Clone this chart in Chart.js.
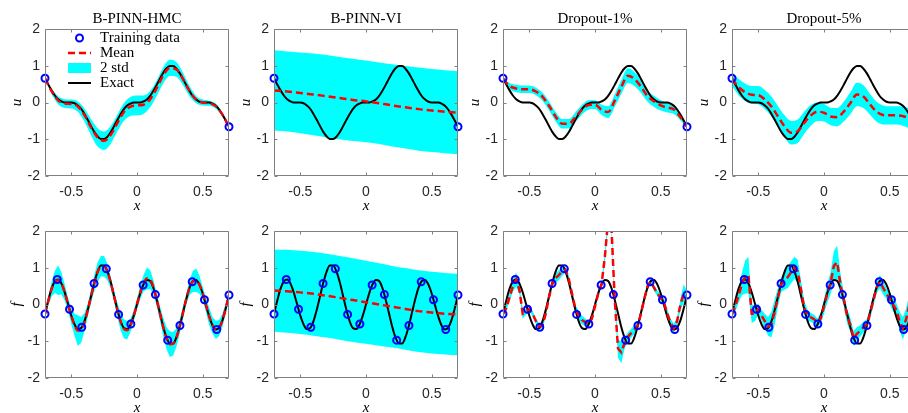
<!DOCTYPE html>
<html>
<head>
    <title>B-PINN vs Dropout</title>
    <script src="https://cdn.jsdelivr.net/npm/chart.js"></script>
    <style>
        body { margin: 0; background: #fff; width: 908px; height: 413px; overflow: hidden; position: relative; }
        .panel { position: absolute; width: 241px; height: 217px; }
    </style>
</head>
<body>
<script>
// grids
var xFine = [-0.7, -0.675, -0.65, -0.625, -0.6, -0.575, -0.55, -0.525, -0.5, -0.475, -0.45, -0.425, -0.4, -0.375,
    -0.35, -0.325, -0.3, -0.275, -0.25, -0.225, -0.2, -0.175, -0.15, -0.125, -0.1, -0.075, -0.05, -0.025, 0,
    0.025, 0.05, 0.075, 0.1, 0.125, 0.15, 0.175, 0.2, 0.225, 0.25, 0.275, 0.3, 0.325, 0.35, 0.375,
    0.4, 0.425, 0.45, 0.475, 0.5, 0.525, 0.55, 0.575, 0.6, 0.625, 0.65, 0.675, 0.7];
var xCoarse = [-0.7, -0.65, -0.6, -0.55, -0.5, -0.45, -0.4, -0.35, -0.3, -0.25, -0.2, -0.15, -0.1, -0.05, 0,
    0.05, 0.1, 0.15, 0.2, 0.25, 0.3, 0.35, 0.4, 0.45, 0.5, 0.55, 0.6, 0.65, 0.7];
var xVI = [-0.7, -0.6, -0.5, -0.4, -0.3, -0.2, -0.1, 0, 0.1, 0.2, 0.3, 0.4, 0.5, 0.6, 0.7];

var xTicks = [-0.5, 0, 0.5];
var yTicks = [-2, -1, 0, 1, 2];

// exact solutions (on xFine)
var uExact = [0.66, 0.49, 0.33, 0.19, 0.09, 0.03, 0.00, 0.00, 0.00, -0.02, -0.08, -0.17, -0.31, -0.47,
    -0.64, -0.80, -0.92, -0.99, -0.99, -0.93, -0.81, -0.65, -0.48, -0.32, -0.18, -0.08, -0.03, 0.00, 0.00,
    0.00, 0.03, 0.08, 0.18, 0.32, 0.48, 0.65, 0.81, 0.93, 0.99, 0.99, 0.92, 0.80, 0.64,
    0.47, 0.31, 0.17, 0.08, 0.02, 0.00, 0.00, 0.00, -0.03, -0.09, -0.19, -0.33, -0.49, -0.66];
var fExact = [-0.26, 0.11, 0.43, 0.63, 0.68, 0.57, 0.33, 0.02, -0.30, -0.54, -0.67, -0.64, -0.46, -0.15,
    0.22, 0.59, 0.89, 1.06, 1.06, 0.90, 0.61, 0.24, -0.13, -0.45, -0.64, -0.67, -0.55, -0.31, 0.00,
    0.31, 0.55, 0.67, 0.64, 0.45, 0.13, -0.24, -0.61, -0.90, -1.06, -1.06, -0.89, -0.59, -0.22,
    0.15, 0.46, 0.64, 0.67, 0.54, 0.30, -0.02, -0.33, -0.57, -0.68, -0.63, -0.43, -0.11, 0.26];

// training data
var uTrainX = [-0.7, 0.7];
var uTrainY = [0.66, -0.66];
var fTrainX = [-0.7, -0.6067, -0.5133, -0.42, -0.3267, -0.2333, -0.14, -0.0467,
    0.0467, 0.14, 0.2333, 0.3267, 0.42, 0.5133, 0.6067, 0.7];
var fTrainY = [-0.26, 0.68, -0.13, -0.62, 0.57, 0.97, -0.27, -0.53,
    0.53, 0.27, -0.97, -0.57, 0.62, 0.13, -0.68, 0.26];

// u predictions: mean and 2*std
var hmcUMean = [0.66, 0.31, 0.06, -0.03, -0.04, -0.11, -0.34, -0.67, -0.95, -1.04, -0.88, -0.56, -0.26, -0.11, -0.08,
    -0.06, 0.09, 0.39, 0.74, 0.94, 0.90, 0.64, 0.31, 0.08, 0.00, -0.02, -0.10, -0.33, -0.66];
var hmcUStd = [0.0, 0.07, 0.11, 0.12, 0.12, 0.14, 0.18, 0.22, 0.25, 0.25, 0.24, 0.23, 0.24, 0.26, 0.27,
    0.25, 0.22, 0.21, 0.22, 0.22, 0.20, 0.17, 0.14, 0.10, 0.08, 0.07, 0.07, 0.05, 0.0];
var viUMean = [0.33, 0.30, 0.26, 0.22, 0.17, 0.12, 0.07, 0.03, -0.02, -0.08, -0.13, -0.18, -0.22, -0.25, -0.28];
var viUStd = [1.09, 1.09, 1.10, 1.11, 1.12, 1.12, 1.12, 1.11, 1.11, 1.12, 1.12, 1.13, 1.13, 1.13, 1.13];
var d1UMean = [0.65, 0.45, 0.38, 0.36, 0.36, 0.30, 0.16, -0.09, -0.38, -0.58, -0.58, -0.40, -0.20, -0.07, -0.06,
    -0.20, -0.26, 0.05, 0.42, 0.73, 0.64, 0.43, 0.17, 0.03, -0.08, -0.14, -0.19, -0.40, -0.66];
var d1UStd = [0.04, 0.08, 0.10, 0.10, 0.10, 0.10, 0.11, 0.12, 0.13, 0.13, 0.13, 0.13, 0.13, 0.13, 0.12,
    0.14, 0.16, 0.17, 0.19, 0.20, 0.19, 0.17, 0.15, 0.15, 0.14, 0.13, 0.12, 0.08, 0.03];
var d5UMean = [0.64, 0.42, 0.28, 0.21, 0.20, 0.08, -0.11, -0.38, -0.65, -0.82, -0.78, -0.55, -0.35, -0.25, -0.28,
    -0.38, -0.40, -0.25, -0.02, 0.22, 0.16, -0.05, -0.25, -0.34, -0.35, -0.35, -0.37, -0.45, -0.66];
var d5UStd = [0.20, 0.22, 0.24, 0.24, 0.25, 0.26, 0.27, 0.28, 0.30, 0.32, 0.32, 0.30, 0.28, 0.25, 0.24,
    0.24, 0.25, 0.27, 0.30, 0.32, 0.31, 0.28, 0.27, 0.26, 0.25, 0.25, 0.26, 0.27, 0.28];

// f predictions: mean and 2*std
var hmcFMean = [-0.26, 0.10, 0.42, 0.62, 0.66, 0.57, 0.33, 0.01, -0.31, -0.56, -0.71, -0.69, -0.49, -0.16,
    0.22, 0.58, 0.88, 1.04, 1.04, 0.88, 0.60, 0.23, -0.14, -0.46, -0.66, -0.70, -0.57, -0.31, 0.01,
    0.33, 0.58, 0.71, 0.68, 0.47, 0.13, -0.25, -0.62, -0.92, -1.08, -1.07, -0.90, -0.60, -0.22,
    0.15, 0.46, 0.63, 0.66, 0.54, 0.30, -0.02, -0.33, -0.57, -0.69, -0.64, -0.43, -0.11, 0.26];
var hmcFStd = [0.05, 0.12, 0.20, 0.30, 0.40, 0.30, 0.22, 0.18, 0.22, 0.30, 0.42, 0.35, 0.25, 0.18,
    0.18, 0.22, 0.26, 0.28, 0.28, 0.22, 0.16, 0.15, 0.20, 0.24, 0.26, 0.25, 0.18, 0.15, 0.15,
    0.18, 0.22, 0.30, 0.26, 0.20, 0.18, 0.20, 0.25, 0.30, 0.35, 0.32, 0.25, 0.20, 0.18,
    0.15, 0.20, 0.28, 0.32, 0.25, 0.18, 0.20, 0.24, 0.22, 0.25, 0.22, 0.18, 0.15, 0.12];
var viFMean = [0.38, 0.36, 0.33, 0.29, 0.24, 0.18, 0.12, 0.06, 0.00, -0.06, -0.12, -0.18, -0.22, -0.25, -0.27];
var viFStd = [1.12, 1.13, 1.13, 1.14, 1.14, 1.14, 1.14, 1.13, 1.12, 1.11, 1.11, 1.11, 1.11, 1.11, 1.11];
var d1FMean = [-0.26, -0.10, 0.20, 0.50, 0.68, 0.40, -0.25, -0.20, -0.12, -0.25, -0.45, -0.60, -0.58, -0.25,
    0.20, 0.57, 0.72, 0.80, 0.90, 0.95, 0.70, 0.30, -0.10, -0.30, -0.42, -0.48, -0.52, -0.40, -0.05,
    0.30, 0.55, 1.30, 2.30, 2.10, 0.15, -1.20, -1.30, -1.05, -0.88, -0.78, -0.68, -0.57, -0.25,
    0.15, 0.50, 0.62, 0.45, 0.30, 0.18, 0.05, -0.25, -0.50, -0.65, -0.45, 0.00, 0.30, 0.26];
var d1FStd = [0.05, 0.08, 0.10, 0.15, 0.20, 0.12, 0.14, 0.08, 0.06, 0.07, 0.08, 0.08, 0.08, 0.10,
    0.12, 0.10, 0.12, 0.14, 0.12, 0.08, 0.10, 0.10, 0.10, 0.12, 0.12, 0.10, 0.08, 0.06, 0.06,
    0.08, 0.08, 0.12, 0.15, 0.15, 0.15, 0.25, 0.30, 0.15, 0.12, 0.12, 0.12, 0.10, 0.10,
    0.10, 0.08, 0.08, 0.08, 0.08, 0.08, 0.10, 0.12, 0.12, 0.12, 0.12, 0.15, 0.25, 0.10];
var d5FMean = [-0.26, -0.05, 0.25, 0.55, 0.75, 0.80, -0.25, -0.25, -0.12, -0.30, -0.45, -0.60, -0.55, -0.20,
    0.20, 0.55, 0.65, 0.75, 0.88, 1.00, 0.90, 0.40, -0.10, -0.30, -0.35, -0.40, -0.50, -0.38, -0.05,
    0.30, 0.58, 1.05, 1.15, 0.55, 0.15, -0.30, -0.55, -0.92, -0.80, -0.72, -0.62, -0.55, -0.25,
    0.10, 0.45, 0.62, 0.45, 0.30, 0.15, 0.00, -0.15, -0.45, -0.65, -0.40, 0.00, 0.25, 0.26];
var d5FStd = [0.10, 0.15, 0.20, 0.30, 0.45, 0.50, 0.25, 0.20, 0.15, 0.15, 0.20, 0.25, 0.35, 0.35,
    0.25, 0.20, 0.25, 0.30, 0.30, 0.30, 0.32, 0.25, 0.20, 0.15, 0.12, 0.12, 0.12, 0.15, 0.20,
    0.25, 0.30, 0.40, 0.45, 0.30, 0.20, 0.20, 0.20, 0.20, 0.18, 0.15, 0.15, 0.15, 0.15,
    0.15, 0.15, 0.18, 0.18, 0.15, 0.15, 0.18, 0.20, 0.25, 0.30, 0.30, 0.30, 0.30, 0.30];

var panels = [
    { L: 45,  T: 29,  title: 'B-PINN-HMC',  ylab: 'u', ex: uExact, mx: xCoarse, mean: hmcUMean, sd: hmcUStd, tx: uTrainX, ty: uTrainY, meanSmooth: true, bandSmooth: true, legend: true },
    { L: 274, T: 29,  title: 'B-PINN-VI',   ylab: 'u', ex: uExact, mx: xVI,     mean: viUMean,  sd: viUStd,  tx: uTrainX, ty: uTrainY, meanSmooth: true, bandSmooth: true },
    { L: 503, T: 29,  title: 'Dropout-1%',  ylab: 'u', ex: uExact, mx: xCoarse, mean: d1UMean,  sd: d1UStd,  tx: uTrainX, ty: uTrainY, meanSmooth: true, bandSmooth: true },
    { L: 732, T: 29,  title: 'Dropout-5%',  ylab: 'u', ex: uExact, mx: xCoarse, mean: d5UMean,  sd: d5UStd,  tx: uTrainX, ty: uTrainY, meanSmooth: true, bandSmooth: true },
    { L: 45,  T: 231, title: '', ylab: 'f', ex: fExact, mx: xFine, mean: hmcFMean, sd: hmcFStd, tx: fTrainX, ty: fTrainY, meanSmooth: true,  bandSmooth: false },
    { L: 274, T: 231, title: '', ylab: 'f', ex: fExact, mx: xVI,   mean: viFMean,  sd: viFStd,  tx: fTrainX, ty: fTrainY, meanSmooth: true,  bandSmooth: true },
    { L: 503, T: 231, title: '', ylab: 'f', ex: fExact, mx: xFine, mean: d1FMean,  sd: d1FStd,  tx: fTrainX, ty: fTrainY, meanSmooth: false, bandSmooth: false },
    { L: 732, T: 231, title: '', ylab: 'f', ex: fExact, mx: xFine, mean: d5FMean,  sd: d5FStd,  tx: fTrainX, ty: fTrainY, meanSmooth: false, bandSmooth: false }
];

function toXY(xs, ys) {
    return xs.map(function (v, i) { return { x: v, y: ys[i] }; });
}

// axes box with inward ticks, title, axis labels, legend (MATLAB style)
var framePlugin = {
    id: 'frame',
    afterDraw: function (chart, args, o) {
        var ctx = chart.ctx, a = chart.chartArea, sx = chart.scales.x, sy = chart.scales.y;
        var l = Math.round(a.left) + 0.5, t = Math.round(a.top) + 0.5;
        var r = Math.round(a.right) - 0.5, b = Math.round(a.bottom) - 0.5;
        ctx.save();
        ctx.strokeStyle = '#808080';
        ctx.lineWidth = 1;
        ctx.beginPath();
        ctx.rect(l, t, r - l, b - t);
        xTicks.forEach(function (v) {
            var px = Math.round(sx.getPixelForValue(v)) + 0.5;
            ctx.moveTo(px, b); ctx.lineTo(px, b - 3);
            ctx.moveTo(px, t); ctx.lineTo(px, t + 3);
        });
        yTicks.forEach(function (v) {
            var py = Math.round(sy.getPixelForValue(v)) + 0.5;
            ctx.moveTo(l, py); ctx.lineTo(l + 3, py);
            ctx.moveTo(r, py); ctx.lineTo(r - 3, py);
        });
        ctx.stroke();

        var cx = (a.left + a.right) / 2;
        ctx.fillStyle = '#000';
        ctx.textAlign = 'center';
        ctx.textBaseline = 'middle';
        if (o.title) {
            ctx.font = '15px "Liberation Serif"';
            ctx.fillText(o.title, cx, a.top - 10);
        }
        ctx.font = 'italic 15px "Liberation Serif"';
        ctx.fillText('x', cx, a.bottom + 30);
        ctx.save();
        ctx.translate(a.left - 28, (a.top + a.bottom) / 2);
        ctx.rotate(-Math.PI / 2);
        ctx.fillText(o.ylab, 0, 0);
        ctx.restore();

        if (o.legend) {
            var ds = chart.data.datasets;
            var x0 = a.left + 23, x1 = a.left + 46, tx = a.left + 55;
            var rows = [a.top + 9, a.top + 24, a.top + 39, a.top + 54];
            ctx.strokeStyle = '#0000ff'; ctx.lineWidth = 2;
            ctx.beginPath(); ctx.arc((x0 + x1) / 2, rows[0], 3.5, 0, 2 * Math.PI); ctx.stroke();
            ctx.strokeStyle = '#ff0000'; ctx.lineWidth = 2.5; ctx.setLineDash([7, 4]);
            ctx.beginPath(); ctx.moveTo(x0, rows[1]); ctx.lineTo(x1, rows[1]); ctx.stroke();
            ctx.setLineDash([]);
            ctx.fillStyle = '#00ffff';
            ctx.fillRect(x0, rows[2] - 5, x1 - x0, 10);
            ctx.strokeStyle = '#000'; ctx.lineWidth = 2;
            ctx.beginPath(); ctx.moveTo(x0, rows[3]); ctx.lineTo(x1, rows[3]); ctx.stroke();
            ctx.fillStyle = '#000';
            ctx.font = '15px "Liberation Serif"';
            ctx.textAlign = 'left';
            [ds[0].label, ds[1].label, ds[3].label, ds[2].label].forEach(function (s, i) {
                ctx.fillText(s, tx, rows[i]);
            });
        }
        ctx.restore();
    }
};

Chart.defaults.font.family = 'Liberation Sans';

panels.forEach(function (p) {
    var div = document.createElement('div');
    div.className = 'panel';
    div.style.left = (p.L - 45) + 'px';
    div.style.top = (p.T - 30) + 'px';
    var cv = document.createElement('canvas');
    div.appendChild(cv);
    document.body.appendChild(div);

    var upper = p.mean.map(function (m, i) { return m + p.sd[i]; });
    var lower = p.mean.map(function (m, i) { return m - p.sd[i]; });
    var bandMode = p.bandSmooth ? 'monotone' : 'default';

    new Chart(cv, {
        type: 'line',
        data: {
            datasets: [
                { label: 'Training data', data: toXY(p.tx, p.ty), showLine: false, pointRadius: 3.5, pointBorderWidth: 2,
                  borderColor: '#0000ff', pointBackgroundColor: 'rgba(0,0,0,0)', backgroundColor: 'rgba(0,0,0,0)', clip: false },
                { label: 'Mean', data: toXY(p.mx, p.mean), borderColor: '#ff0000', borderWidth: 2.5, borderDash: [7, 4],
                  pointRadius: 0, cubicInterpolationMode: p.meanSmooth ? 'monotone' : 'default', tension: 0 },
                { label: 'Exact', data: toXY(xFine, p.ex), borderColor: '#000000', borderWidth: 2,
                  pointRadius: 0, cubicInterpolationMode: 'monotone' },
                { label: '2 std', data: toXY(p.mx, upper), borderColor: 'rgba(0,0,0,0)', borderWidth: 0, pointRadius: 0,
                  backgroundColor: '#00ffff', fill: '+1', cubicInterpolationMode: bandMode, tension: 0 },
                { label: 'lower', data: toXY(p.mx, lower), borderColor: 'rgba(0,0,0,0)', borderWidth: 0, pointRadius: 0,
                  fill: false, cubicInterpolationMode: bandMode, tension: 0 }
            ]
        },
        options: {
            responsive: true,
            maintainAspectRatio: false,
            animation: false,
            events: [],
            layout: { padding: { top: 30, right: 12, left: 0, bottom: 0 } },
            plugins: {
                legend: { display: false },
                tooltip: { enabled: false },
                filler: { drawTime: 'beforeDatasetsDraw' },
                frame: { title: p.title, ylab: p.ylab, legend: !!p.legend }
            },
            scales: {
                x: {
                    type: 'linear', min: -0.7, max: 0.7,
                    afterFit: function (s) { s.height = 40; },
                    afterBuildTicks: function (s) { s.ticks = xTicks.map(function (v) { return { value: v }; }); },
                    grid: { display: false, drawTicks: false },
                    border: { display: false },
                    ticks: { padding: 8, color: '#262626', font: { size: 14 }, maxRotation: 0, autoSkip: false,
                             callback: function (v) { return String(v); } }
                },
                y: {
                    type: 'linear', min: -2, max: 2,
                    afterFit: function (s) { s.width = 45; },
                    afterBuildTicks: function (s) { s.ticks = yTicks.map(function (v) { return { value: v }; }); },
                    grid: { display: false, drawTicks: false },
                    border: { display: false },
                    ticks: { padding: 5, color: '#262626', font: { size: 14 },
                             callback: function (v) { return String(v); } }
                }
            }
        },
        plugins: [framePlugin]
    });
});
</script>
</body>
</html>
